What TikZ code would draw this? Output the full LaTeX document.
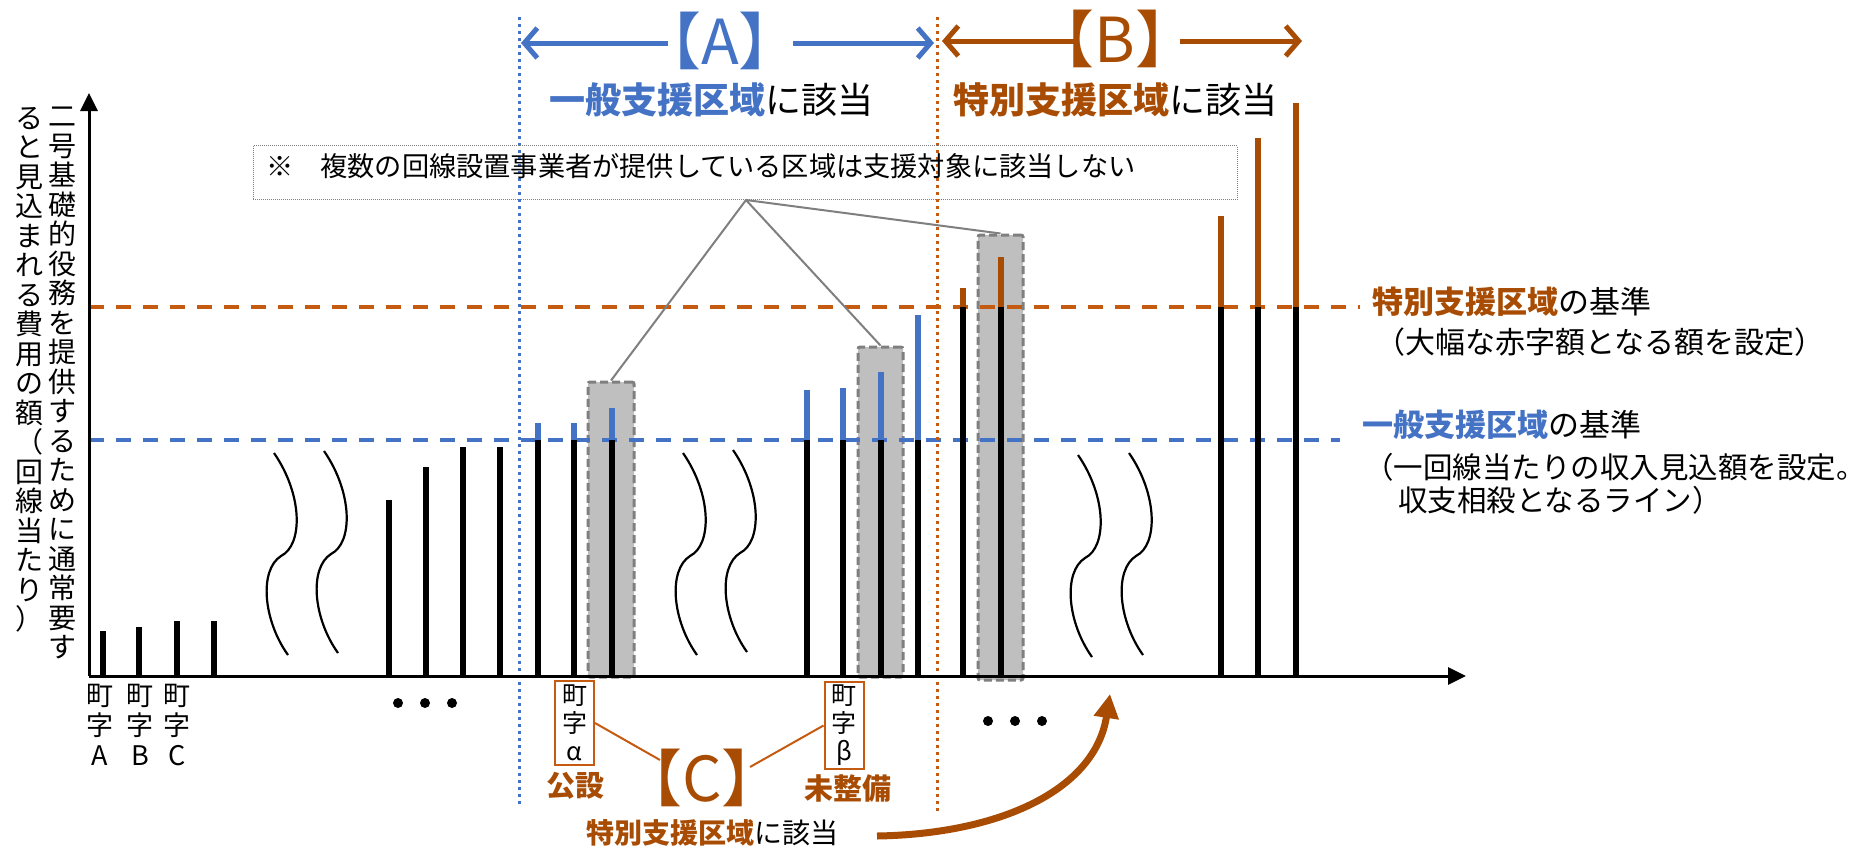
\documentclass[tikz,border=0pt]{standalone}
\usepackage{fontspec}
\setmainfont{Noto Sans CJK JP}
\usetikzlibrary{arrows.meta}
\definecolor{cblue}{HTML}{4472C4}
\definecolor{cline}{HTML}{C55A11}
\definecolor{cbrown}{HTML}{A84C04}
\definecolor{cgfill}{HTML}{BFBFBF}
\definecolor{cgline}{HTML}{7F7F7F}
\newcommand\fsz[2]{\fontsize{#1}{#2}\selectfont}
\tikzset{
  bar/.style={line width=5.5pt},
  axisline/.style={line width=3pt,-{Triangle[length=18pt,width=17pt]}},
  graybox/.style={draw=cgline,fill=cgfill,line width=3pt,dash pattern=on 8pt off 4pt,rounded corners=2pt,inner sep=0pt},
  squig/.style={line width=2.2pt},
  lvl/.style={line width=3.5pt,dash pattern=on 15pt off 12pt},
  vdot/.style={line width=3pt,dash pattern=on 3pt off 4pt},
  rangearrow/.style={line width=5pt,-{Straight Barb[length=13pt,width=30pt]}},
  plain/.style={inner sep=0pt,outer sep=0pt},
  townbox/.style={draw=cline,line width=2pt,inner sep=0pt,minimum width=39pt,align=center,font=\fsz{25}{28}},
  dotm/.style={fill=black,circle,inner sep=0pt,minimum size=10pt},
  ylab/.style={inner sep=0pt,outer sep=0pt,anchor=north,align=center,font=\fsz{28}{29.5}},
}
\begin{document}
\begin{tikzpicture}[x=1pt,y=-1pt]
\fill[white] (0,0) rectangle (1871,847);
\useasboundingbox (0,0) rectangle (1871,847);

% gray highlight boxes
\node[graybox,minimum width=46pt,minimum height=295pt] (g1) at (611,529.5) {};
\node[graybox,minimum width=45pt,minimum height=330pt] (g2) at (880.5,512) {};
\node[graybox,minimum width=45pt,minimum height=445pt] (g3) at (1000.5,457.5) {};

% threshold dashed lines
\coordinate (oS) at (89,307);
\coordinate (oE) at (1360,307);
\coordinate (bS) at (89,440);
\coordinate (bE) at (1340,440);
\draw[lvl,cline] (oS) -- (oE);
\draw[lvl,cblue] (bS) -- (bE);

% vertical dotted separators
\coordinate (sAt) at (519,17);
\coordinate (sAb) at (519,807);
\coordinate (sBt) at (937,17);
\coordinate (sBb) at (937,811);
\draw[vdot,cblue] (sAt) -- (sAb);
\draw[vdot,cline] (sBt) -- (sBb);

% black bars
\foreach \x/\t in {103/631,139/627,177/621,214/621,389/500,426/467,463/447,500/447}
  \draw[bar] (\x,676) -- (\x,\t);
% blue-topped bars
\foreach \x/\t in {538/423,574/423,612/408,807/390,843/388,881/372,918/315}{
  \draw[bar] (\x,678) -- (\x,440);
  \draw[bar,cblue] (\x,440) -- (\x,\t);
}
% brown-topped bars
\foreach \x/\t in {963/288,1001/257,1221/216,1258/138,1296/103}{
  \draw[bar] (\x,676) -- (\x,307);
  \draw[bar,cbrown] (\x,307) -- (\x,\t);
}

% squiggles
\foreach \x/\y in {274/453,324/451,683/453,733/450,1078/455,1129/453}
  \draw[squig] (\x,\y) .. controls (\x+29,\y+42) and (\x+29,\y+92) .. (\x+7,\y+103)
                      .. controls (\x-15,\y+117) and (\x-11,\y+167) .. (\x+14,\y+202);

% axes
\coordinate (O) at (89,676);
\coordinate (Ytop) at (89,93);
\coordinate (Xend) at (1466,676);
\draw[axisline] (O) -- (Ytop);
\draw[axisline] (O) -- (Xend);

% y-axis label (vertical writing)
\node[ylab] (ylabA) at (62,107)
 {二\\号\\基\\礎\\的\\役\\務\\を\\提\\供\\す\\る\\た\\め\\に\\通\\常\\要\\す};
\node[ylab] (ylabB) at (30,107)
 {る\\と\\見\\込\\ま\\れ\\る\\費\\用\\の\\額\\（\\回\\線\\当\\た\\り\\）};

% town labels
\node[plain,anchor=north,align=center,font=\fsz{27}{30}] (tA) at (100,684) {町\\字\\A};
\node[plain,anchor=north,align=center,font=\fsz{27}{30}] (tB) at (140,684) {町\\字\\B};
\node[plain,anchor=north,align=center,font=\fsz{27}{30}] (tC) at (177,684) {町\\字\\C};

% ellipsis dots
\node[dotm] (d1) at (398,703) {};
\node[dotm] (d2) at (425,703) {};
\node[dotm] (d3) at (452,703) {};
\node[dotm] (d4) at (988,721) {};
\node[dotm] (d5) at (1015,721) {};
\node[dotm] (d6) at (1042,721) {};

% note box
\node[draw=cgline,densely dotted,line width=1pt,minimum width=984pt,minimum height=54pt,inner sep=0pt] (notebox) at (745,172.5) {};
\node[plain,anchor=west,font=\fsz{27.2}{30}] (notetext) at (266,166) {※　複数の回線設置事業者が提供している区域は支援対象に該当しない};
\coordinate (note) at (746,200);
\draw[cgline,line width=2pt] (note) -- (g1.north);
\draw[cgline,line width=2pt] (note) -- (g2.north);
\draw[cgline,line width=2pt] (note) -- (g3.north);

% range A
\node[plain,text=cblue,font=\fsz{62}{62}] (lA) at (720,41) {【A】};
\coordinate (Al) at (668,43);
\coordinate (Alt) at (521,43);
\coordinate (Ar) at (793,43);
\coordinate (Art) at (934,43);
\draw[rangearrow,cblue] (Al) -- (Alt);
\draw[rangearrow,cblue] (Ar) -- (Art);
\node[plain,anchor=west,font=\fsz{36}{40}] (tAreg) at (549,100) {{\bfseries\color{cblue}一般支援区域}に該当};

% range B
\node[plain,text=cbrown,font=\fsz{62}{62}] (lB) at (1115,39) {【B】};
\coordinate (Bl) at (1075,41);
\coordinate (Blt) at (942,41);
\coordinate (Br) at (1180,41);
\coordinate (Brt) at (1302,41);
\draw[rangearrow,cbrown] (Bl) -- (Blt);
\draw[rangearrow,cbrown] (Br) -- (Brt);
\node[plain,anchor=west,font=\fsz{36}{40}] (tBreg) at (953,100) {{\bfseries\color{cbrown}特別支援区域}に該当};

% threshold labels
\node[plain,anchor=west,font=\fsz{31}{34}] (sp1) at (1372,302) {{\bfseries\color{cbrown}特別支援区域}の基準};
\node[plain,anchor=west,font=\fsz{30}{34}] (sp2) at (1375,342) {（大幅な赤字額となる額を設定）};
\node[plain,anchor=west,font=\fsz{31}{34}] (gn1) at (1362,425) {{\bfseries\color{cblue}一般支援区域}の基準};
\node[plain,anchor=west,font=\fsz{29.5}{34}] (gn2) at (1364,467) {（一回線当たりの収入見込額を設定。};
\node[plain,anchor=west,font=\fsz{29.5}{34}] (gn3) at (1398,500) {収支相殺となるライン）};

% C annotation
\node[townbox,minimum height=84pt] (alpha) at (574.5,723) {町\\字\\α};
\node[townbox,minimum height=87pt] (beta) at (844,725.5) {町\\字\\β};
\node[plain,text=cbrown,font=\fsz{62}{62}] (lC) at (702,778) {【C】};
\node[plain,text=cbrown,font=\fsz{29}{32}\bfseries] (kousetsu) at (575,786) {公設};
\node[plain,text=cbrown,font=\fsz{29}{32}\bfseries] (miseibi) at (848,789) {未整備};
\coordinate (Cl) at (660,760);
\coordinate (Cr) at (750,767);
\draw[cline,line width=2pt] (alpha.east) -- (Cl);
\draw[cline,line width=2pt] (Cr) -- (beta.west);
\node[plain,anchor=west,font=\fsz{28}{32}] (tCreg) at (586,833) {{\bfseries\color{cbrown}特別支援区域}に該当};
\coordinate (cvS) at (877,836);
\coordinate (cvE) at (1110,694);
\draw[cbrown,line width=7pt,-{Triangle[length=24pt,width=24pt]}] (cvS) .. controls (1000,834) and (1095,790) .. (cvE);
\end{tikzpicture}
\end{document}
